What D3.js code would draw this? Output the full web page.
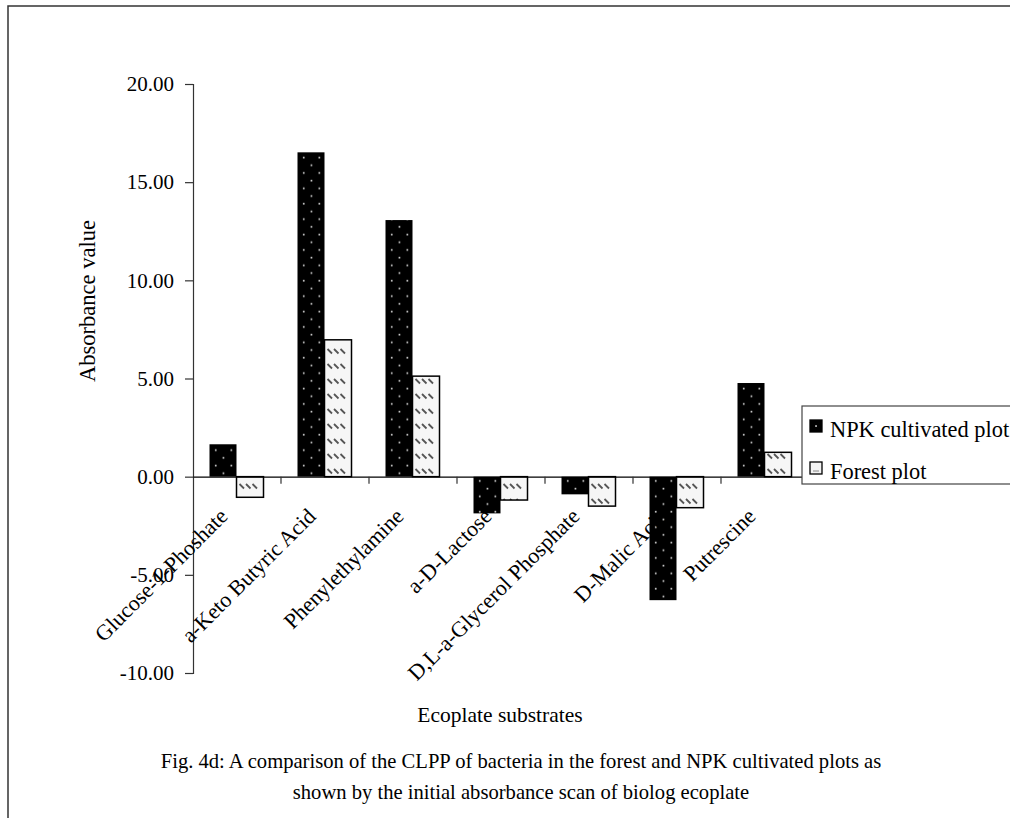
<!DOCTYPE html>
<html>
<head>
<meta charset="utf-8">
<script src="https://cdn.jsdelivr.net/npm/d3@7/dist/d3.min.js"></script>
<style>
  html, body { margin: 0; padding: 0; background: #fff; }
  svg { display: block; }
  text { font-family: "Liberation Serif", "Times New Roman", serif; fill: #000; }
</style>
</head>
<body>
<svg id="chart" width="1010" height="818"></svg>
<script>
// Ecoplate substrates and the two plot series (initial absorbance scan)
const categories = [
  "Glucose-1-Phoshate",
  "a-Keto Butyric Acid",
  "Phenylethylamine",
  "a-D-Lactose",
  "D,L-a-Glycerol Phosphate",
  "D-Malic Acid",
  "Putrescine"
];
const seriesNames = ["NPK cultivated plot", "Forest plot"];
const npkValues = [1.65, 16.52, 13.07, -1.87, -0.9, -6.29, 4.77];
const forestValues = [-1.05, 6.97, 5.12, -1.19, -1.5, -1.58, 1.24];
const yTicks = [-10, -5, 0, 5, 10, 15, 20];

const svg = d3.select("#chart");
const W = 1010, H = 818;
const SERIF = "Liberation Serif, Times New Roman, serif";

// frame around the figure
svg.append("path")
  .attr("d", `M8,${H + 2}V6H${W + 2}`)
  .attr("fill", "none")
  .attr("stroke", "#333")
  .attr("stroke-width", 1.5);

// scales
const plotLeft = 193, plotRight = 809, plotTop = 84, plotBottom = 673;
const y = d3.scaleLinear().domain([-10, 20]).range([plotBottom, plotTop]);
const x0 = d3.scaleBand().domain(categories).range([plotLeft, plotRight]).padding(0);
const x1 = d3.scaleBand().domain(seriesNames).range([16.5, 70.5]).padding(0);
const step = x0.step(), bw = x1.bandwidth();

// fill patterns; one tile spans a whole category group, so every bar
// (drawn inside its translated group) gets the same texture placement
const defs = svg.append("defs");
const npkStart = x1(seriesNames[0]);
const forStart = x1(seriesNames[1]);

const dots = defs.append("pattern")
  .attr("id", "dots").attr("patternUnits", "userSpaceOnUse")
  .attr("width", step).attr("height", 15.4);
dots.append("rect").attr("width", step).attr("height", 15.4).attr("fill", "#000");
[[6.2, 3.5], [21.8, 3.5], [13.9, 11.2]].forEach(([dx, dy]) => {
  dots.append("rect")
    .attr("x", npkStart + dx - 0.8).attr("y", dy - 0.8)
    .attr("width", 1.7).attr("height", 1.7).attr("fill", "#c8c8c8");
});

const hatch = defs.append("pattern")
  .attr("id", "hatch").attr("patternUnits", "userSpaceOnUse")
  .attr("width", step).attr("height", 15);
hatch.append("rect").attr("width", step).attr("height", 15).attr("fill", "#f6f6f6");
[3, 9.5, 16].forEach(dx => {
  hatch.append("line")
    .attr("x1", forStart + dx).attr("y1", 4)
    .attr("x2", forStart + dx + 4.5).attr("y2", 8.5)
    .attr("stroke", "#555").attr("stroke-width", 1.8);
});

const rows = categories.map((c, i) => ({ cat: c, vals: [npkValues[i], forestValues[i]] }));

// bars
const groups = svg.append("g").selectAll("g")
  .data(rows).join("g")
  .attr("transform", d => `translate(${x0(d.cat)},0)`);

groups.selectAll("rect")
  .data(d => d.vals.map((v, k) => ({ key: seriesNames[k], v })))
  .join("rect")
  .attr("x", d => x1(d.key))
  .attr("width", bw)
  .attr("y", d => y(Math.max(0, d.v)))
  .attr("height", d => Math.abs(y(d.v) - y(0)))
  .attr("fill", d => d.key === seriesNames[0] ? "url(#dots)" : "url(#hatch)")
  .attr("stroke", d => d.key === seriesNames[0] ? "none" : "#000")
  .attr("stroke-width", 1.5);

// y axis
const yAxis = d3.axisLeft(y)
  .tickValues(yTicks)
  .tickSize(8)
  .tickPadding(11)
  .tickFormat(d => d.toFixed(2));
const yG = svg.append("g").attr("transform", `translate(${plotLeft},0)`).call(yAxis);
yG.select(".domain").attr("stroke", "#333").attr("stroke-width", 1.2);
yG.selectAll(".tick line").attr("stroke", "#333").attr("stroke-width", 1.2);
yG.selectAll(".tick text")
  .attr("font-family", SERIF)
  .attr("font-size", 21);

// x axis along zero
const xAxis = d3.axisBottom(x0).tickSize(0).tickFormat("");
const xG = svg.append("g").attr("transform", `translate(0,${y(0)})`).call(xAxis);
xG.select(".domain").attr("stroke", "#000").attr("stroke-width", 1.2);
// category boundary ticks
xG.selectAll("line.sep")
  .data(categories.slice(1))
  .join("line")
  .attr("class", "sep")
  .attr("x1", d => x0(d)).attr("x2", d => x0(d))
  .attr("y1", 0).attr("y2", 7)
  .attr("stroke", "#333").attr("stroke-width", 1.2);

// rotated category labels
svg.append("g").selectAll("text")
  .data(categories).join("text")
  .attr("transform", d => `translate(${x0(d) + x0.bandwidth() / 2 - 8},${y(0) + 41}) rotate(-45)`)
  .attr("text-anchor", "end")
  .attr("font-size", 22)
  .text(d => d);

// axis titles
svg.append("text")
  .attr("transform", `translate(95,301) rotate(-90)`)
  .attr("text-anchor", "middle")
  .attr("font-size", 22.5)
  .text("Absorbance value");

svg.append("text")
  .attr("x", 500).attr("y", 722)
  .attr("text-anchor", "middle")
  .attr("font-size", 21.5)
  .text("Ecoplate substrates");

// legend
const lg = svg.append("g");
lg.append("rect")
  .attr("x", 802).attr("y", 406).attr("width", 230).attr("height", 78)
  .attr("fill", "#fff").attr("stroke", "#444").attr("stroke-width", 1.2);
const legendItems = lg.selectAll("g.item")
  .data(seriesNames).join("g")
  .attr("class", "item")
  .attr("transform", (d, i) => `translate(810,${420 + i * 42})`);
legendItems.append("rect")
  .attr("width", 12).attr("height", 12)
  .attr("fill", (d, i) => i === 0 ? "#000" : "#f3f3f3")
  .attr("stroke", "#000").attr("stroke-width", 1.3);
legendItems.filter((d, i) => i === 0).append("rect")
  .attr("x", 5.2).attr("y", 5.2).attr("width", 1.7).attr("height", 1.7)
  .attr("fill", "#c8c8c8");
legendItems.filter((d, i) => i === 1).append("line")
  .attr("x1", 3).attr("y1", 9).attr("x2", 9).attr("y2", 9)
  .attr("stroke", "#888").attr("stroke-width", 1);
legendItems.append("text")
  .attr("x", 20).attr("y", 17)
  .attr("font-size", 22.4)
  .text(d => d);

// caption
const caption = [
  "Fig. 4d: A comparison of the CLPP of bacteria in the forest and NPK cultivated plots as",
  "shown by the initial absorbance scan of biolog ecoplate"
];
svg.append("g").selectAll("text")
  .data(caption).join("text")
  .attr("x", 521)
  .attr("y", (d, i) => 768 + i * 31)
  .attr("text-anchor", "middle")
  .attr("font-size", 20.6)
  .text(d => d);
</script>
</body>
</html>
